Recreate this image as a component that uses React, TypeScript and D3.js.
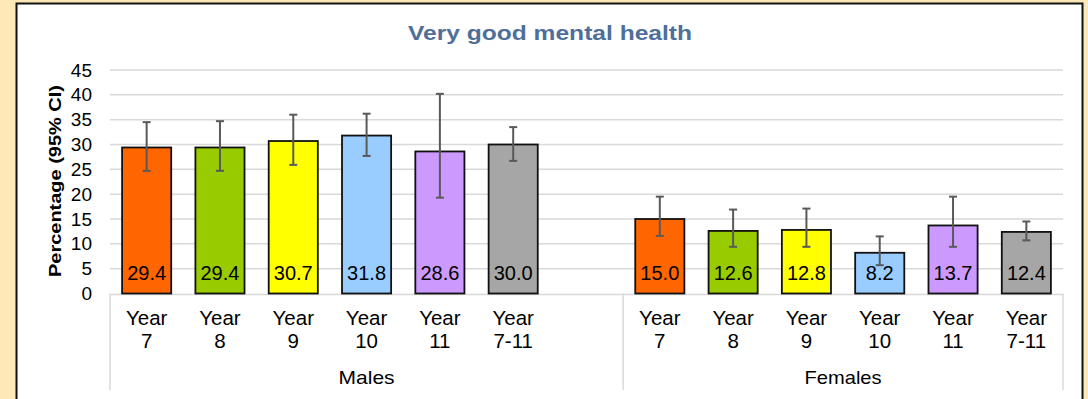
import React from "react";
import * as d3 from "d3";

// Survey results: share reporting very good mental health, by school year and sex
const years = ["Year 7", "Year 8", "Year 9", "Year 10", "Year 11", "Year 7-11"];
const groups = ["Males", "Females"];
const maleValues = [29.4, 29.4, 30.7, 31.8, 28.6, 30.0];
const maleLower = [24.7, 24.7, 25.9, 27.7, 19.3, 26.7];
const maleUpper = [34.5, 34.7, 36.0, 36.2, 40.2, 33.5];
const femaleValues = [15.0, 12.6, 12.8, 8.2, 13.7, 12.4];
const femaleLower = [11.6, 9.4, 9.4, 5.7, 9.4, 10.7];
const femaleUpper = [19.5, 16.9, 17.1, 11.5, 19.5, 14.5];
const yearColors = ["#FF6600", "#99CC00", "#FFFF00", "#99CCFF", "#CC99FF", "#A6A6A6"];
const yTicks = [0, 5, 10, 15, 20, 25, 30, 35, 40, 45];

const W = 1088;
const H = 399;
const plot = { left: 110, right: 1063, top: 70, bottom: 293.5 };
const font = "'Liberation Sans', Arial, sans-serif";

type Row = {
  key: string;
  group: string;
  year: string;
  value: number;
  lo: number;
  hi: number;
  color: string;
};

const rows: Row[] = [
  ...years.map((y, i) => ({
    key: `Males|${y}`,
    group: "Males",
    year: y,
    value: maleValues[i],
    lo: maleLower[i],
    hi: maleUpper[i],
    color: yearColors[i],
  })),
  ...years.map((y, i) => ({
    key: `Females|${y}`,
    group: "Females",
    year: y,
    value: femaleValues[i],
    lo: femaleLower[i],
    hi: femaleUpper[i],
    color: yearColors[i],
  })),
];

// Males carry an empty trailing slot that separates the two groups
const slots = [
  ...years.map((y) => `Males|${y}`),
  "Males|",
  ...years.map((y) => `Females|${y}`),
];

const groupLabelWidths = [56, 77];

export default function App() {
  const x = d3
    .scaleBand<string>()
    .domain(slots)
    .range([plot.left, plot.right])
    .paddingInner(0.33)
    .paddingOuter(0.165);
  const y = d3.scaleLinear().domain([0, 45]).range([plot.bottom, plot.top]);
  const step = x.step();
  const slotLeft = (k: string) => (x(k) as number) - (step - x.bandwidth()) / 2;
  const groupBounds = [
    [slotLeft(slots[0]), slotLeft(slots[7])],
    [slotLeft(slots[7]), plot.right],
  ];
  const dividers = [plot.left, slotLeft(slots[7]), plot.right];
  const cap = 4;

  return (
    <svg
      width={W}
      height={H}
      style={{ position: "absolute", left: 0, top: 0, display: "block" }}
      fontFamily={font}
    >
      <rect x={0} y={0} width={W} height={H} fill="#FFE8B8" />
      <rect x={16.5} y={3.5} width={1066} height={H + 10} fill="#FFFFFF" stroke="#111111" strokeWidth={2} />

      <text
        x={550}
        y={40}
        textAnchor="middle"
        fontSize={21}
        fontWeight="bold"
        fill="#4F6E9A"
        textLength={284}
        lengthAdjust="spacingAndGlyphs"
      >
        Very good mental health
      </text>

      {/* gridlines and value axis */}
      {yTicks.map((t) => (
        <g key={t}>
          {t > 0 && (
            <line x1={plot.left} x2={plot.right} y1={y(t)} y2={y(t)} stroke="#D9D9D9" strokeWidth={1.5} />
          )}
          <text x={92} y={y(t) + 6.5} textAnchor="end" fontSize={19} fill="#000">
            {t}
          </text>
        </g>
      ))}
      <text
        transform={`translate(61,181) rotate(-90)`}
        textAnchor="middle"
        fontSize={16.5}
        fontWeight="bold"
        fill="#000"
        textLength={192}
        lengthAdjust="spacingAndGlyphs"
      >
        Percentage (95% CI)
      </text>

      {/* category axis */}
      <line x1={plot.left} x2={plot.right} y1={plot.bottom + 1} y2={plot.bottom + 1} stroke="#D9D9D9" strokeWidth={1.5} />
      {dividers.map((d, i) => (
        <line key={i} x1={d} x2={d} y1={plot.bottom} y2={390} stroke="#D9D9D9" strokeWidth={1.5} />
      ))}

      {/* bars */}
      {rows.map((r) => {
        const bx = x(r.key) as number;
        const cx = bx + x.bandwidth() / 2;
        return (
          <g key={r.key}>
            <rect
              x={bx}
              y={y(r.value)}
              width={x.bandwidth()}
              height={plot.bottom - y(r.value)}
              fill={r.color}
              stroke="#111111"
              strokeWidth={1.8}
            />
            <g stroke="#595959" strokeWidth={2}>
              <line x1={cx} x2={cx} y1={y(r.hi)} y2={y(r.lo)} />
              <line x1={cx - cap} x2={cx + cap} y1={y(r.hi)} y2={y(r.hi)} />
              <line x1={cx - cap} x2={cx + cap} y1={y(r.lo)} y2={y(r.lo)} />
            </g>
            <text x={cx} y={280} textAnchor="middle" fontSize={20} fill="#000">
              {r.value.toFixed(1)}
            </text>
            <text x={cx} y={325} textAnchor="middle" fontSize={20.5} fill="#000">
              {r.year.split(" ")[0]}
            </text>
            <text x={cx} y={348} textAnchor="middle" fontSize={20.5} fill="#000">
              {r.year.split(" ")[1]}
            </text>
          </g>
        );
      })}

      {groups.map((g, i) => (
        <text
          key={g}
          x={(groupBounds[i][0] + groupBounds[i][1]) / 2}
          y={384}
          textAnchor="middle"
          fontSize={19}
          fill="#000"
          textLength={groupLabelWidths[i]}
          lengthAdjust="spacingAndGlyphs"
        >
          {g}
        </text>
      ))}
    </svg>
  );
}
